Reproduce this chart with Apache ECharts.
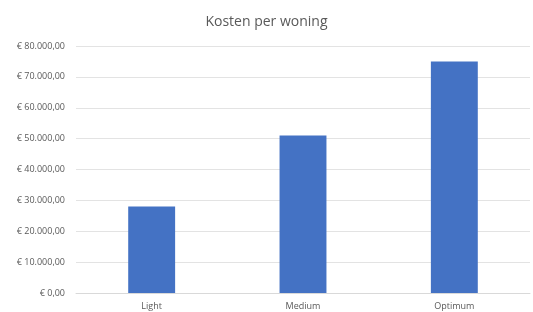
<!DOCTYPE html>
<html>
<head>
<meta charset="utf-8">
<script src="https://cdn.jsdelivr.net/npm/echarts@6/dist/echarts.min.js"></script>
<style>
  html, body { margin: 0; padding: 0; background: #fff; }
  #chart { width: 533px; height: 312px; }
</style>
</head>
<body>
<div id="chart"></div>
<script>
const categories = ['Light', 'Medium', 'Optimum'];
const costs = [28000, 51000, 75000];

const chart = echarts.init(document.getElementById('chart'));

// € 80.000,00 style labels
function euro(v) {
  const whole = String(Math.round(v)).replace(/\B(?=(\d{3})+(?!\d))/g, '.');
  return '€ ' + whole + ',00';
}

chart.setOption({
  animation: false,
  textStyle: { fontFamily: 'Open Sans' },
  title: {
    text: 'Kosten per woning',
    left: 'center',
    top: 10,
    textStyle: { fontSize: 14, fontWeight: 'normal', color: '#595959', fontFamily: 'Open Sans' }
  },
  grid: { left: 76, right: 3, top: 46, bottom: 19 },
  xAxis: {
    type: 'category',
    data: categories,
    axisLine: { lineStyle: { color: '#d9d9d9' } },
    axisTick: { show: false },
    axisLabel: { color: '#595959', fontSize: 9, margin: 9 }
  },
  yAxis: {
    type: 'value',
    min: 0,
    max: 80000,
    interval: 10000,
    axisLine: { show: false },
    axisTick: { show: false },
    axisLabel: { color: '#595959', fontSize: 9, margin: 11, formatter: euro },
    splitLine: { lineStyle: { color: '#e3e3e3' } }
  },
  series: [{
    type: 'bar',
    data: costs,
    barWidth: '31%',
    itemStyle: { color: '#4472c4' }
  }]
});
</script>
</body>
</html>
